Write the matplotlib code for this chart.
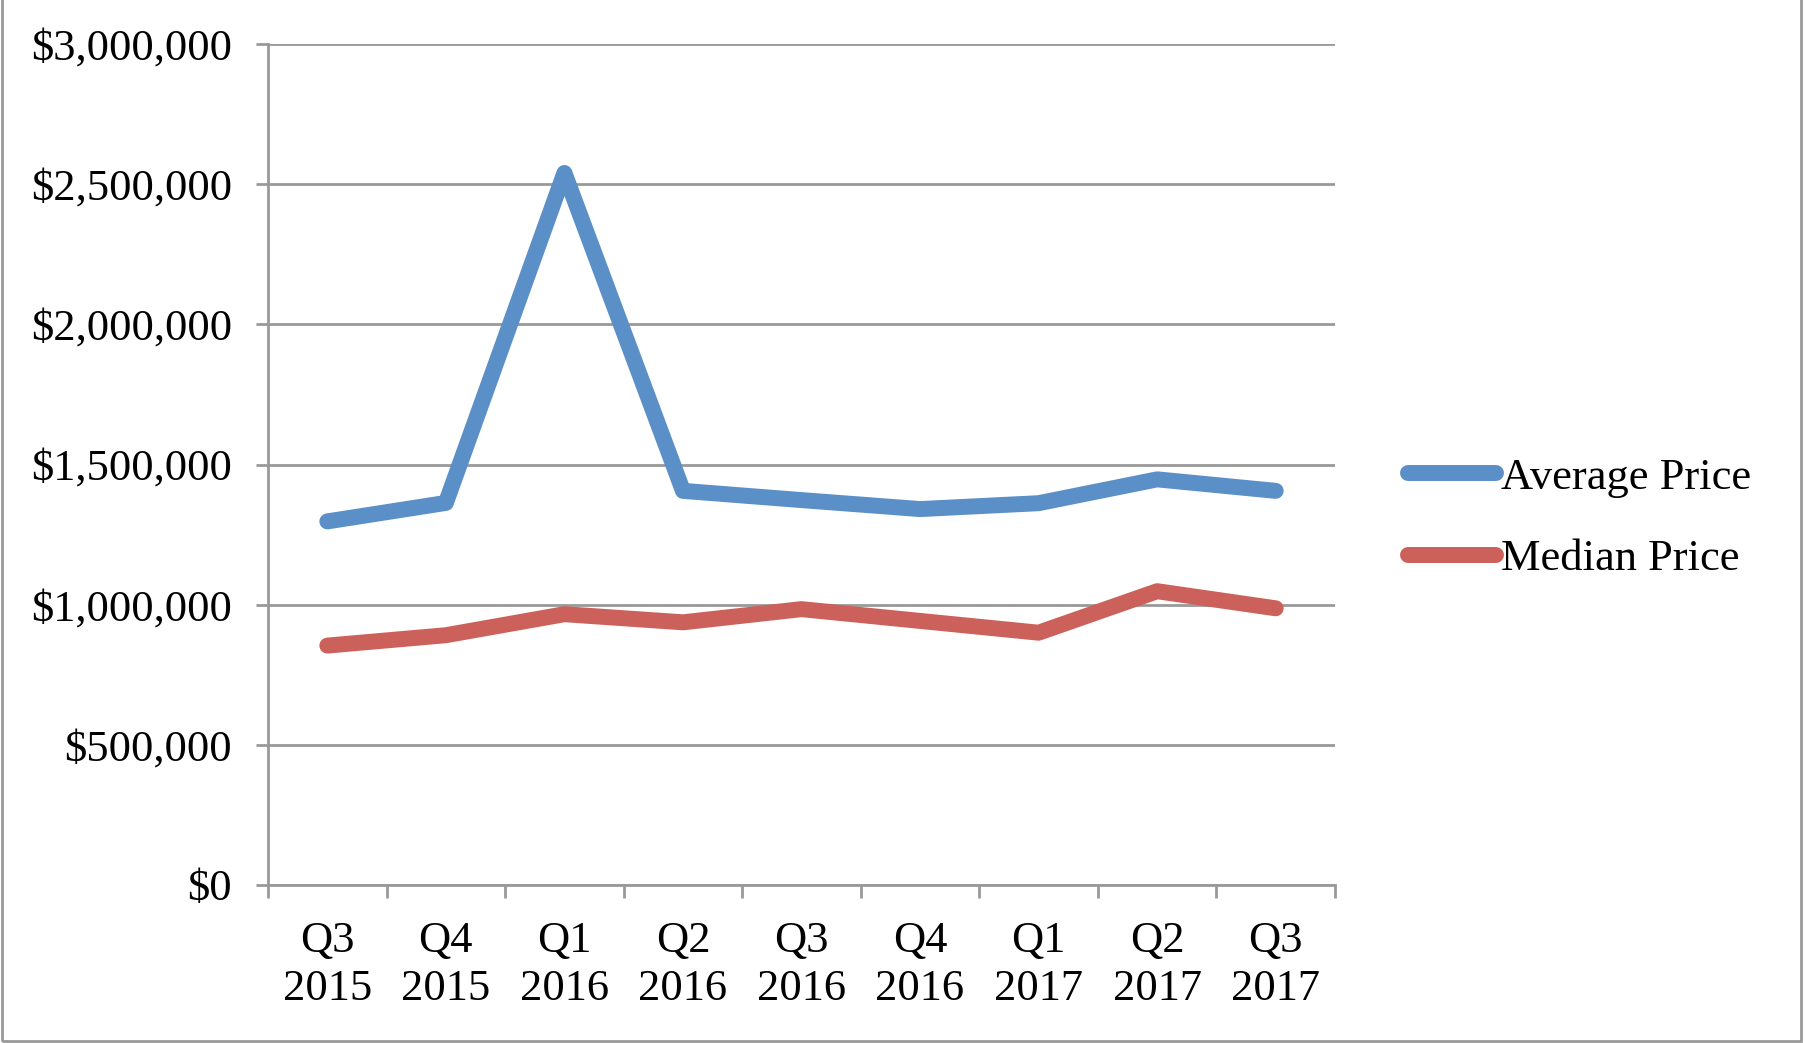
import matplotlib.pyplot as plt
from matplotlib.patches import Rectangle
from matplotlib.ticker import FuncFormatter, FixedLocator

quarters = ["Q3\n2015", "Q4\n2015", "Q1\n2016", "Q2\n2016", "Q3\n2016",
            "Q4\n2016", "Q1\n2017", "Q2\n2017", "Q3\n2017"]
average_price = [1297000, 1363000, 2540000, 1406000, 1373000, 1341000, 1362000, 1447000, 1406000]
median_price = [854000, 891000, 966000, 937000, 984000, 942000, 900000, 1048000, 987000]

plt.rcParams["font.family"] = ["Liberation Serif", "DejaVu Serif"]
grey = "#999999"

fig = plt.figure(figsize=(18.05, 10.43), dpi=100)
ax = fig.add_axes([0.1485, 0.1515, 0.5911, 0.8063])

x = list(range(len(quarters)))
ax.plot(x, average_price, color="#5B8FC7", lw=11.5, solid_capstyle="round",
        solid_joinstyle="round", label="Average Price", zorder=3)
ax.plot(x, median_price, color="#CC615B", lw=11.5, solid_capstyle="round",
        solid_joinstyle="round", label="Median Price", zorder=3)

ax.set_xlim(-0.5, len(quarters) - 0.5)
ax.set_ylim(0, 3000000)
ax.set_yticks(range(0, 3000001, 500000))
ax.yaxis.set_major_formatter(FuncFormatter(lambda v, p: f"${v:,.0f}"))
ax.yaxis.grid(True, color=grey, lw=2)
ax.set_axisbelow(True)

# category boundaries get tick marks, labels sit in between
ax.xaxis.set_major_locator(FixedLocator([i - 0.5 for i in range(len(quarters) + 1)]))
ax.xaxis.set_major_formatter(FuncFormatter(lambda v, p: ""))
ax.xaxis.set_minor_locator(FixedLocator(x))
ax.set_xticklabels(quarters, minor=True, linespacing=1.27)
ax.tick_params(axis="x", which="major", length=9, width=2, color=grey, direction="out")
ax.tick_params(axis="x", which="minor", length=0, pad=26, labelsize=32)
ax.tick_params(axis="y", length=9, width=2, color=grey, direction="out", pad=17, labelsize=32)

for s in ["top", "right"]:
    ax.spines[s].set_visible(False)
for s in ["left", "bottom"]:
    ax.spines[s].set_color(grey)
    ax.spines[s].set_linewidth(2)

ax.legend(loc="center left", bbox_to_anchor=(1.068, 0.436), frameon=False, fontsize=32,
          borderpad=0, borderaxespad=0, handlelength=2.0, handletextpad=0.1,
          labelspacing=0.93)

fig.patches.append(Rectangle((0.001, 0.002), 0.997, 1.2, transform=fig.transFigure,
                             fill=False, edgecolor=grey, lw=2))

fig.savefig("out.png", dpi=100, facecolor="white")
